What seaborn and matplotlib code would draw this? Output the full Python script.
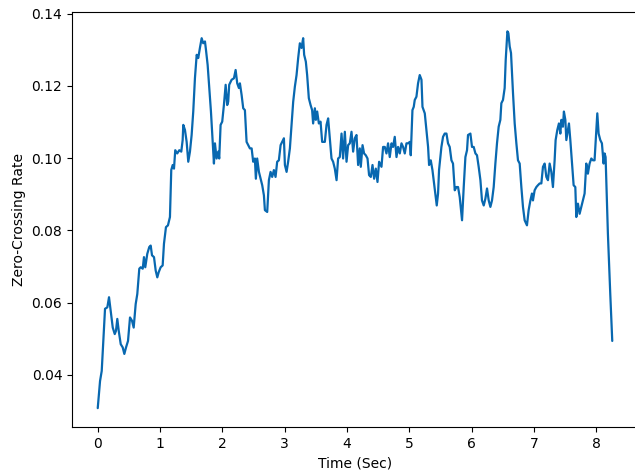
import matplotlib
matplotlib.use("Agg")
import matplotlib.pyplot as plt
import pandas as pd
import seaborn as sns

# time (sec)
time_sec = [
    0.000, 0.037, 0.064, 0.117, 0.154, 0.181, 0.208, 0.241, 0.273, 0.293,
    0.314, 0.337, 0.369, 0.401, 0.427, 0.454, 0.486, 0.518, 0.550, 0.577,
    0.609, 0.635, 0.667, 0.690, 0.722, 0.742, 0.763, 0.795, 0.827, 0.850,
    0.871, 0.903, 0.930, 0.956, 0.978, 1.010, 1.042, 1.063, 1.095, 1.127,
    1.159, 1.180, 1.203, 1.224, 1.244, 1.276, 1.309, 1.341, 1.363, 1.373,
    1.400, 1.427, 1.453, 1.480, 1.507, 1.533, 1.560, 1.588, 1.613, 1.640,
    1.668, 1.693, 1.721, 1.737, 1.764, 1.785, 1.817, 1.844, 1.865, 1.881,
    1.908, 1.934, 1.950, 1.972, 1.998, 2.025, 2.053, 2.078, 2.094, 2.110,
    2.149, 2.186, 2.213, 2.239, 2.266, 2.282, 2.309, 2.335, 2.362, 2.389,
    2.415, 2.442, 2.470, 2.495, 2.522, 2.538, 2.559, 2.587, 2.614, 2.640,
    2.667, 2.683, 2.720, 2.747, 2.774, 2.800, 2.827, 2.854, 2.880, 2.907,
    2.935, 2.960, 2.988, 3.004, 3.031, 3.056, 3.084, 3.111, 3.137, 3.164,
    3.191, 3.217, 3.244, 3.271, 3.297, 3.313, 3.340, 3.361, 3.388, 3.416,
    3.441, 3.457, 3.485, 3.501, 3.522, 3.549, 3.576, 3.602, 3.645, 3.672,
    3.698, 3.725, 3.752, 3.778, 3.805, 3.833, 3.858, 3.885, 3.913, 3.938,
    3.966, 3.993, 4.019, 4.046, 4.073, 4.099, 4.126, 4.153, 4.179, 4.206,
    4.222, 4.250, 4.275, 4.302, 4.330, 4.355, 4.383, 4.410, 4.436, 4.463,
    4.490, 4.516, 4.554, 4.580, 4.607, 4.634, 4.660, 4.687, 4.715, 4.740,
    4.767, 4.795, 4.820, 4.848, 4.875, 4.901, 4.928, 4.955, 4.981, 5.008,
    5.024, 5.051, 5.072, 5.088, 5.115, 5.141, 5.168, 5.196, 5.212, 5.249,
    5.276, 5.302, 5.318, 5.345, 5.372, 5.398, 5.425, 5.441, 5.462, 5.478,
    5.516, 5.542, 5.569, 5.597, 5.622, 5.649, 5.677, 5.702, 5.730, 5.757,
    5.783, 5.810, 5.847, 5.874, 5.901, 5.927, 5.943, 5.981, 6.007, 6.034,
    6.062, 6.087, 6.114, 6.142, 6.167, 6.195, 6.222, 6.248, 6.275, 6.302,
    6.328, 6.355, 6.382, 6.408, 6.435, 6.462, 6.478, 6.504, 6.531, 6.548,
    6.575, 6.591, 6.612, 6.633, 6.665, 6.692, 6.719, 6.745, 6.772, 6.799,
    6.825, 6.852, 6.889, 6.916, 6.944, 6.969, 6.985, 7.012, 7.040, 7.065,
    7.093, 7.120, 7.146, 7.173, 7.200, 7.226, 7.253, 7.280, 7.306, 7.333,
    7.349, 7.376, 7.402, 7.425, 7.441, 7.466, 7.482, 7.505, 7.521, 7.542,
    7.563, 7.585, 7.617, 7.638, 7.665, 7.681, 7.707, 7.734, 7.761, 7.787,
    7.814, 7.841, 7.867, 7.894, 7.922, 7.947, 7.974, 8.002, 8.018, 8.039,
    8.066, 8.092, 8.119, 8.135, 8.151, 8.188, 8.226, 8.258,
]

# zero-crossing rate at each time
zcr = [
    0.0308, 0.0383, 0.0411, 0.0583, 0.0587, 0.0615, 0.0578, 0.0531, 0.0513, 0.0522,
    0.0555, 0.0522, 0.0485, 0.0476, 0.0458, 0.0476, 0.0494, 0.0559, 0.0550, 0.0531,
    0.0596, 0.0624, 0.0694, 0.0698, 0.0694, 0.0726, 0.0698, 0.0735, 0.0754, 0.0758,
    0.0731, 0.0726, 0.0689, 0.0670, 0.0684, 0.0698, 0.0703, 0.0763, 0.0809, 0.0814,
    0.0837, 0.0967, 0.0981, 0.0971, 0.1022, 0.1013, 0.1022, 0.1018, 0.1050, 0.1092,
    0.1078, 0.1045, 0.0990, 0.1018, 0.1064, 0.1129, 0.1221, 0.1286, 0.1277, 0.1305,
    0.1332, 0.1318, 0.1323, 0.1300, 0.1258, 0.1207, 0.1129, 0.1045, 0.0985, 0.1041,
    0.0999, 0.1018, 0.0999, 0.1092, 0.1101, 0.1147, 0.1203, 0.1147, 0.1156, 0.1203,
    0.1217, 0.1221, 0.1244, 0.1207, 0.1194, 0.1207, 0.1175, 0.1138, 0.1133, 0.1045,
    0.1036, 0.1027, 0.1027, 0.0990, 0.0999, 0.0943, 0.0999, 0.0962, 0.0943, 0.0925,
    0.0897, 0.0856, 0.0851, 0.0939, 0.0962, 0.0948, 0.0967, 0.0948, 0.0990, 0.0994,
    0.1036, 0.1045, 0.1055, 0.0981, 0.0962, 0.0990, 0.1027, 0.1092, 0.1156, 0.1198,
    0.1230, 0.1277, 0.1318, 0.1305, 0.1332, 0.1286, 0.1267, 0.1230, 0.1166, 0.1147,
    0.1133, 0.1096, 0.1138, 0.1106, 0.1129, 0.1096, 0.1101, 0.1045, 0.1045, 0.1092,
    0.1110, 0.1055, 0.0999, 0.0990, 0.0971, 0.0939, 0.0999, 0.1003, 0.1068, 0.0999,
    0.1073, 0.0990, 0.1036, 0.1041, 0.1073, 0.1018, 0.1055, 0.1064, 0.0981, 0.1027,
    0.0976, 0.1036, 0.1013, 0.1008, 0.0999, 0.0953, 0.0948, 0.0981, 0.0943, 0.0971,
    0.0934, 0.0990, 0.0976, 0.1031, 0.1031, 0.1013, 0.1041, 0.1003, 0.1041, 0.1031,
    0.1059, 0.1003, 0.1031, 0.1013, 0.1041, 0.1031, 0.1013, 0.1041, 0.1041, 0.1045,
    0.1008, 0.1133, 0.1142, 0.1161, 0.1170, 0.1207, 0.1230, 0.1217, 0.1142, 0.1124,
    0.1078, 0.1031, 0.0981, 0.0994, 0.0967, 0.0930, 0.0892, 0.0869, 0.0902, 0.0967,
    0.1031, 0.1059, 0.1068, 0.1068, 0.1041, 0.1031, 0.0994, 0.0985, 0.0911, 0.0920,
    0.0920, 0.0892, 0.0828, 0.0920, 0.1003, 0.1022, 0.1064, 0.1068, 0.1031, 0.1031,
    0.1013, 0.1008, 0.0976, 0.0939, 0.0883, 0.0869, 0.0888, 0.0916, 0.0883, 0.0865,
    0.0883, 0.0920, 0.0985, 0.1041, 0.1087, 0.1106, 0.1152, 0.1161, 0.1194, 0.1272,
    0.1351, 0.1346, 0.1309, 0.1291, 0.1180, 0.1096, 0.1041, 0.0994, 0.0985, 0.0920,
    0.0865, 0.0828, 0.0814, 0.0856, 0.0883, 0.0902, 0.0883, 0.0911, 0.0920, 0.0925,
    0.0930, 0.0930, 0.0976, 0.0985, 0.0948, 0.0939, 0.0985, 0.0962, 0.0920, 0.0994,
    0.1050, 0.1078, 0.1096, 0.1068, 0.1106, 0.1087, 0.1129, 0.1106, 0.1050, 0.1073,
    0.1096, 0.1050, 0.0976, 0.0925, 0.0920, 0.0837, 0.0874, 0.0846, 0.0865, 0.0883,
    0.0902, 0.0985, 0.0957, 0.0985, 0.0999, 0.0994, 0.0994, 0.1078, 0.1124, 0.1068,
    0.1050, 0.1041, 0.0985, 0.1013, 0.1003, 0.0791, 0.0624, 0.0494,
]

df = pd.DataFrame({"time": time_sec, "zcr": zcr})

sns.set_style("ticks", {"axes.edgecolor": "black", "text.color": "black",
                        "xtick.color": "black", "ytick.color": "black",
                        "axes.labelcolor": "black"})
plt.rcParams["font.family"] = ["DejaVu Sans"]
plt.rcParams["axes.linewidth"] = 0.8
plt.rcParams["xtick.major.width"] = 0.8
plt.rcParams["ytick.major.width"] = 0.8

fig = plt.figure(figsize=(6.35, 4.75), dpi=100)
ax = fig.add_axes([0.1134, 0.1011, 0.8913, 0.8726])
sns.lineplot(data=df, x="time", y="zcr", ax=ax, color="#0868b0", linewidth=1.6)
ax.set_xlabel("Time (Sec)")
ax.set_ylabel("Zero-Crossing Rate")
ax.set_xticks(range(0, 9))
ax.set_yticks([0.04, 0.06, 0.08, 0.10, 0.12, 0.14])
ax.set_yticklabels(["0.04", "0.06", "0.08", "0.10", "0.12", "0.14"])

fig.savefig("out.png", dpi=100)
plt.close(fig)
